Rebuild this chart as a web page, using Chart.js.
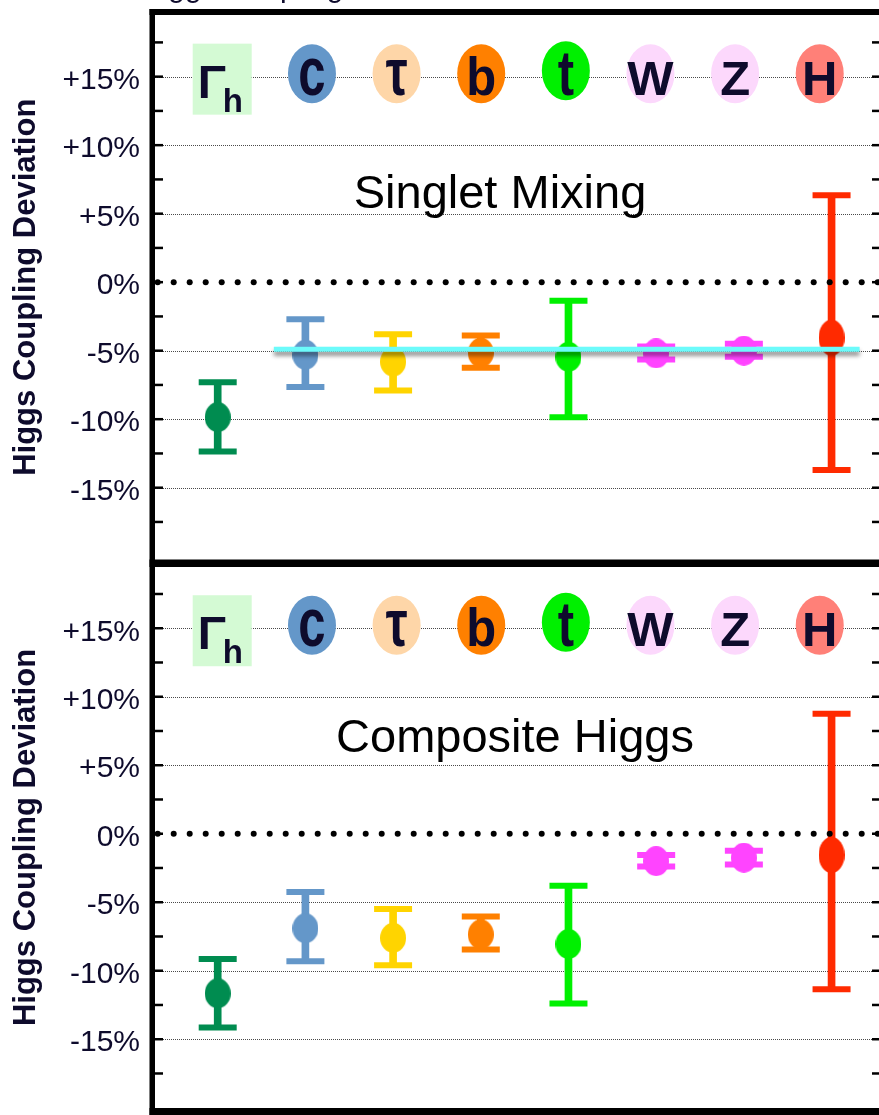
<!DOCTYPE html>
<html>
<head>
<meta charset="utf-8">
<script src="https://cdn.jsdelivr.net/npm/chart.js@4/dist/chart.umd.min.js"></script>
<style>
  html, body { margin: 0; padding: 0; background: #fff; }
  #page { position: relative; width: 879px; height: 1115px; overflow: hidden; background: #fff; }
  canvas { position: absolute; left: 0; }
</style>
</head>
<body>
<div id="page">
  <canvas id="singlet" width="879" height="567" style="top:0"></canvas>
  <canvas id="composite" width="879" height="548" style="top:567px"></canvas>
</div>
<script>
// Couplings shown along the horizontal axis
const categories = ['Γh', 'c', 'τ', 'b', 't', 'W', 'Z', 'H'];

// Singlet mixing scenario: central deviation and error-bar ends (%)
const singletCentral = [-9.85, -5.3, -5.8, -5.15, -5.45, -5.2, -5.0, -4.05];
const singletLow     = [-12.35, -7.65, -7.9, -6.25, -9.85, -5.65, -5.45, -13.7];
const singletHigh    = [-7.3, -2.7, -3.8, -3.9, -1.35, -4.7, -4.5, 6.35];

// Common shift predicted by the singlet model (horizontal band)
const singletShiftX = [0.64, 7.32];
const singletShiftY = [-4.9, -4.9];

// Composite Higgs scenario
const compositeCentral = [-11.65, -6.9, -7.6, -7.35, -8.05, -2.0, -1.75, -1.55];
const compositeLow     = [-14.15, -9.3, -9.6, -8.45, -12.4, -2.4, -2.25, -11.35];
const compositeHigh    = [-9.15, -4.25, -5.5, -6.05, -3.8, -1.55, -1.25, 8.75];

// Vertical axis ticks
const yTickValues = [-17.5, -15, -12.5, -10, -7.5, -5, -2.5, 0, 2.5, 5, 7.5, 10, 12.5, 15, 17.5];
const yTickLabels = ['', '-15%', '', '-10%', '', '-5%', '', '0%', '', '+5%', '', '+10%', '', '+15%', ''];
const yGridValues = [-15, -10, -5, 5, 10, 15];

// ---- styling ----
const FONT = '"Liberation Sans", Arial, Helvetica, sans-serif';
const INK = '#0e0b2c';
const markerColors = ['#008c50', '#6497c9', '#ffd400', '#ff8000', '#00f000', '#ff44ff', '#ff44ff', '#ff2a00'];
const badgeColors  = ['#d4fad4', '#6497c9', '#fed6a8', '#ff8000', '#00f000', '#fcd8fc', '#fcd8fc', '#ff8078'];
// lowercase badge glyphs are drawn taller so every letter has a similar height
const glyphStretch = { c: 1.38, 'τ': 1.35, b: 1.08, t: 1.3 };

function ellipseSprite(color, w, h) {
  const c = document.createElement('canvas');
  c.width = w; c.height = h;
  const g = c.getContext('2d');
  g.fillStyle = color;
  g.beginPath();
  g.ellipse(w / 2, h / 2, w / 2, h / 2, 0, 0, Math.PI * 2);
  g.fill();
  return c;
}
const markerSprites = markerColors.map((col, i) => ellipseSprite(col, 26, i === 7 ? 36 : 30));

// slot of each coupling badge along the x axis
const badgeSlot = i => (i === 0 ? 0 : 0.11 + 0.965 * i);

const panelDecor = {
  id: 'panelDecor',
  beforeDatasetsDraw(chart, args, opts) {
    const { ctx, chartArea: a, scales: { x, y } } = chart;
    ctx.save();
    // thin dotted grid lines
    ctx.strokeStyle = '#4a4a4a';
    ctx.lineWidth = 1;
    ctx.setLineDash([1, 1]);
    yGridValues.forEach(v => {
      const py = Math.round(y.getPixelForValue(v)) + 0.5;
      ctx.beginPath(); ctx.moveTo(a.left, py); ctx.lineTo(a.right, py); ctx.stroke();
    });
    ctx.setLineDash([]);

    // coupling badges along the +15% row
    const rowY = y.getPixelForValue(15);
    categories.forEach((name, i) => {
      const bx = x.getPixelForValue(badgeSlot(i));
      ctx.fillStyle = badgeColors[i];
      ctx.textBaseline = 'alphabetic';
      if (i === 0) {
        ctx.fillRect(bx - 25, rowY - 33, 59, 71);
        ctx.fillStyle = INK;
        ctx.textAlign = 'left';
        ctx.font = 'bold 47px ' + FONT;
        ctx.fillText(name[0], bx - 20, rowY + 21);
        ctx.font = 'bold 33px ' + FONT;
        ctx.fillText(name.slice(1), bx + 5, rowY + 35);
      } else {
        const cy = rowY - (name === 't' ? 6 : 3);
        ctx.beginPath();
        ctx.ellipse(bx, cy, 24, 29.5, 0, 0, Math.PI * 2);
        ctx.fill();
        ctx.fillStyle = INK;
        ctx.textAlign = 'center';
        ctx.font = 'bold 49px ' + FONT;
        ctx.save();
        ctx.translate(bx, rowY + 18);
        ctx.scale(1, glyphStretch[name] || 1);
        ctx.fillText(name, 0, 0);
        ctx.restore();
      }
    });

    // panel heading
    ctx.fillStyle = '#000';
    ctx.font = '47px ' + FONT;
    ctx.textAlign = 'center';
    ctx.textBaseline = 'alphabetic';
    ctx.fillText(opts.title, opts.titleX, opts.titleY);
    ctx.restore();
  },
  afterDatasetsDraw(chart, args, opts) {
    const { ctx, chartArea: a, scales: { y } } = chart;
    ctx.save();
    // heavy dotted reference line at zero
    const zy = y.getPixelForValue(0);
    ctx.fillStyle = '#000';
    for (let px = a.left + 2.7; px < a.right + 4; px += 16) {
      ctx.beginPath(); ctx.arc(px, zy, 3, 0, Math.PI * 2); ctx.fill();
    }
    // inward tick marks on both sides
    ctx.strokeStyle = '#000';
    ctx.lineWidth = 2.5;
    yTickValues.forEach(v => {
      const py = y.getPixelForValue(v);
      ctx.beginPath(); ctx.moveTo(a.left, py); ctx.lineTo(a.left + 8, py); ctx.stroke();
      ctx.beginPath(); ctx.moveTo(a.right - 7, py); ctx.lineTo(a.right, py); ctx.stroke();
    });
    // frame
    ctx.fillStyle = '#000';
    const top = opts.frameTop ? a.top - 6 : 0;
    ctx.fillRect(a.left - 5.5, top, 5.5, a.bottom + 8 - top);
    if (opts.frameTop) ctx.fillRect(a.left - 5.5, a.top - 6, chart.width, 6);
    ctx.fillRect(a.left - 5.5, a.bottom, chart.width, 7.5);
    ctx.restore();
  },
  afterDraw(chart, args, opts) {
    if (!opts.header) return;
    const { ctx } = chart;
    ctx.save();
    ctx.fillStyle = INK;
    ctx.font = '30px ' + FONT;
    ctx.textAlign = 'left';
    ctx.fillText(opts.header, 140, -3.5);
    ctx.restore();
  },
  beforeDatasetDraw(chart, args) {
    if (chart.data.datasets[args.index].castShadow) {
      const ctx = chart.ctx;
      ctx.save();
      ctx.shadowColor = 'rgba(0,0,0,0.45)';
      ctx.shadowBlur = 4;
      ctx.shadowOffsetY = 4;
    }
  },
  afterDatasetDraw(chart, args) {
    if (chart.data.datasets[args.index].castShadow) chart.ctx.restore();
  }
};

function buildPanel(canvasId, p) {
  const pts = vals => vals.map((v, i) => ({ x: i, y: v }));
  const datasets = [
    {
      type: 'bar',
      data: p.low.map((lo, i) => ({ x: i, y: [lo, p.high[i]] })),
      backgroundColor: markerColors,
      borderWidth: 0,
      barThickness: 7,
      order: 4
    },
    {
      type: 'scatter',
      data: [...pts(p.low), ...pts(p.high)],
      pointStyle: 'line',
      pointRadius: 19,
      pointBorderWidth: 6,
      pointBorderColor: [...markerColors, ...markerColors],
      order: 3
    },
    {
      type: 'scatter',
      data: pts(p.central),
      pointStyle: markerSprites,
      pointRadius: 14,
      order: 2
    }
  ];
  if (p.shift) {
    datasets.push({
      type: 'line',
      data: p.shift.x.map((xv, i) => ({ x: xv, y: p.shift.y[i] })),
      borderColor: '#6cfbfb',
      borderWidth: 5,
      borderCapStyle: 'butt',
      pointRadius: 0,
      castShadow: true,
      order: 1
    });
  }
  return new Chart(document.getElementById(canvasId), {
    type: 'scatter',
    data: { datasets },
    plugins: [panelDecor],
    options: {
      responsive: false,
      animation: false,
      events: [],
      layout: { autoPadding: false, padding: { left: 0, right: 0, top: p.padTop, bottom: p.padBottom } },
      plugins: {
        legend: { display: false },
        tooltip: { enabled: false },
        panelDecor: { title: p.title, titleX: p.titleX, titleY: p.titleY, frameTop: p.frameTop, header: p.header }
      },
      scales: {
        x: { type: 'linear', offset: false, min: -0.715, max: 7.541, display: false },
        y: {
          type: 'linear',
          min: p.yMin,
          max: p.yMax,
          afterBuildTicks: s => { s.ticks = yTickValues.map(v => ({ value: v })); },
          afterFit: s => { s.width = 155; s.paddingTop = 0; s.paddingBottom = 0; },
          grid: { display: false, drawTicks: false },
          border: { display: false },
          ticks: {
            autoSkip: false,
            padding: 15,
            labelOffset: 4,
            color: INK,
            font: { size: 30, family: FONT },
            callback: (v, i) => yTickLabels[i]
          },
          title: {
            display: true,
            text: 'Higgs Coupling Deviation',
            color: INK,
            font: { size: 31, weight: 'bold', family: FONT },
            padding: { top: 8, bottom: 0 }
          }
        }
      }
    }
  });
}

buildPanel('singlet', {
  title: 'Singlet Mixing', titleX: 500, titleY: 208,
  header: 'Higgs Coupling Deviations',
  central: singletCentral, low: singletLow, high: singletHigh,
  shift: { x: singletShiftX, y: singletShiftY },
  yMin: -20.24, yMax: 19.5, padTop: 15, padBottom: 7.5, frameTop: true
});

buildPanel('composite', {
  title: 'Composite Higgs', titleX: 515, titleY: 185,
  central: compositeCentral, low: compositeLow, high: compositeHigh,
  yMin: -20.02, yMax: 19.47, padTop: 0, padBottom: 7, frameTop: false
});
</script>
</body>
</html>
